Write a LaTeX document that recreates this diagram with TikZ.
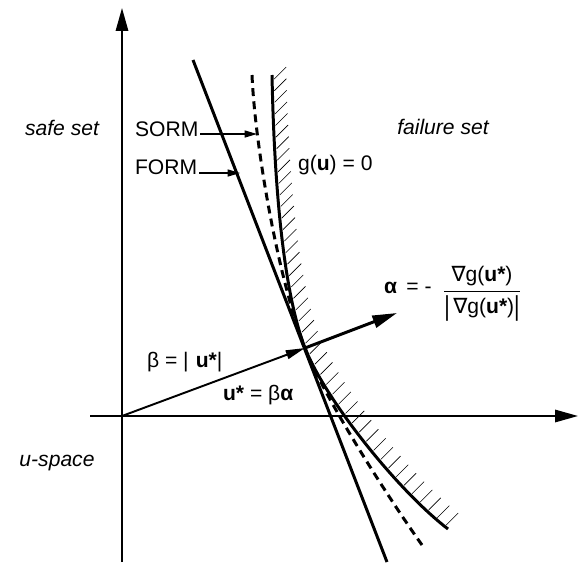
\documentclass[tikz,border=0pt]{standalone}
\usepackage{fontspec}
\setmainfont{Liberation Sans}
\newfontfamily\nablafont{DejaVu Sans}
\usepackage{tikz}
\usetikzlibrary{arrows.meta,positioning,calc,decorations.markings}
\newcommand{\grad}{{\nablafont ∇}}
\renewcommand{\arraystretch}{1.3}

\begin{document}
\begin{tikzpicture}[x=0.02cm, y=-0.02cm,
  every node/.style={font=\fontsize{12}{14}\selectfont, inner sep=1pt},
  axis/.style={line width=1.1pt, -{Triangle[length=13pt,width=7pt]}},
  bound/.style={line width=1.7pt},
  sorm/.style={line width=1.7pt, dash pattern=on 4.5pt off 3pt},
  ptr/.style={line width=0.6pt, -{Triangle[length=7pt,width=4pt]}},
  hatched/.style={postaction={decorate}, decoration={markings,
    mark=between positions 0.01 and 1 step 6.6pt with
      {\pgftransformresetnontranslations \draw[line width=0.35pt] (2,-1) -- (14,-13);}}}
]
\useasboundingbox (0,0) rectangle (579,568);

\coordinate (O) at (122,416);
\coordinate (ustar) at (305,348);
\coordinate (alphatip) at (397,313);

% axes
\draw[axis] (O |- 0,562) -- (122,8);
\draw[axis] (90,416) -- (578,416);

% limit state g(u)=0 with failure side hatched
\draw[bound, hatched] (272,75) .. controls (274,175) and (282,288) .. (ustar)
  .. controls (324.5,398) and (396,489) .. (448,529);

% FORM tangent plane
\draw[bound] (193,60) -- (387,562);

% SORM parabola
\draw[sorm] (252,75) .. controls (255,145) and (277.8,278) .. (ustar)
  .. controls (324.5,398) and (386.5,495) .. (422,545);

% design point vectors
\draw[line width=1.1pt, -{Triangle[length=11pt,width=5pt]}] (O) -- (ustar);
\draw[line width=1.7pt, -{Triangle[length=14pt,width=7pt]}] (ustar) -- (alphatip);

% labels
\node (safe) at (62,128) {\itshape safe set};
\node (fail) at (443,127) {\itshape failure set};
\node (uspace) at (57,463) {\itshape u-space};
\node[anchor=west] (sormlbl) at (133,129) {SORM};
\node[anchor=west] (formlbl) at (133,167) {FORM};
\node[anchor=west] (glbl) at (296,165) {g(\textbf{u}) = 0};
\node[anchor=west] (beta) at (145,362) {β = |\,\,\textbf{u*}|};
\node[anchor=west] (ueq) at (221,395) {\textbf{u*} = β\textbf{α}};
\node[anchor=west] (alpha) at (382,288) {\textbf{α}\, = -};
\node[inner sep=0pt] (frac) at (482,291)
  {\begin{tabular}{@{}c@{}}\grad g(\textbf{u*})\\\hline
   \raisebox{-1pt}{\scalebox{1}[1.3]{|}}\,\grad g(\textbf{u*})\raisebox{-1pt}{\scalebox{1}[1.3]{|}}\end{tabular}};

\coordinate (sormtip) at (257,134);
\coordinate (formtip) at (240,173);
\draw[ptr] (sormlbl.east |- sormtip) -- (sormtip);
\draw[ptr] (formlbl.east |- formtip) -- (formtip);
\end{tikzpicture}
\end{document}
